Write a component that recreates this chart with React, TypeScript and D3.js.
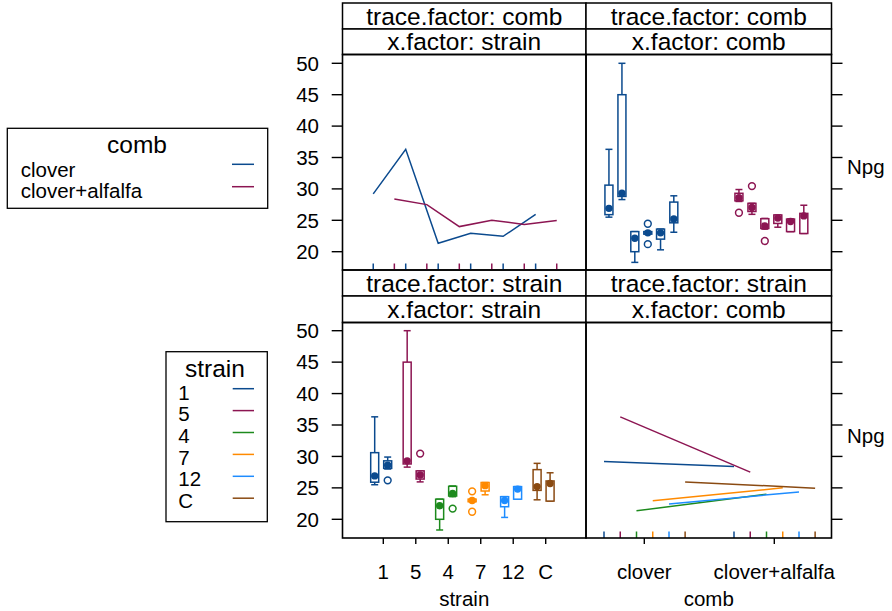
import React from "react";
import * as d3 from "d3";

// ---- data ----
const strains = ["1", "5", "4", "7", "12", "C"];
const combs = ["clover", "clover+alfalfa"];
const meanClover = [29.2, 36.3, 21.35, 22.95, 22.45, 25.95];
const meanAlfalfa = [28.4, 27.5, 24.0, 25.0, 24.35, 24.95];
// [lowWhisker, q1, median, q3, highWhisker]
const boxClover = [
  [25.5, 25.9, 26.9, 30.6, 36.3],
  [28.3, 28.8, 29.3, 45.0, 50.0],
  [18.3, 20.0, 22.15, 23.2, 23.2],
  [22.8, 22.8, 23.0, 23.2, 23.2],
  [20.3, 22.0, 23.0, 23.6, 23.6],
  [23.1, 24.6, 25.2, 27.9, 28.9],
];
const outClover = [[], [], [], [24.45, 21.2], [], []];
const boxAlfalfa = [
  [28.0, 28.1, 28.6, 29.3, 29.9],
  [25.95, 26.4, 27.05, 27.7, 27.7],
  [23.6, 23.7, 24.1, 25.25, 25.3],
  [23.9, 24.5, 25.35, 25.85, 25.85],
  [23.2, 23.2, 24.8, 25.2, 25.2],
  [22.9, 22.9, 25.7, 26.1, 27.4],
];
const outAlfalfa = [[26.2], [30.45], [21.7], [], [], []];
const yTicks = [20, 25, 30, 35, 40, 45, 50];

// ---- styles ----
const strainColors = ["#0B4A8E", "#8C1552", "#1D8A1D", "#FF8A00", "#1E8CFF", "#8A4A12"];
const combColors = [strainColors[0], strainColors[1]];
const FONT = "'Liberation Sans', Arial, sans-serif";
const FS = 20.5;
const FS_BIG = 24.5;

const L = 342.5, M = 586, R = 831.5;
const stripTop = [3, 29, 54.5];
const stripBot = [270, 296, 322.5];
const panelTopY = [54.5, 270];
const panelBotY = [322.5, 538];

const yTop = d3.scaleLinear().domain([50, 20]).range([63.3, 251.7]);
const yBot = d3.scaleLinear().domain([50, 20]).range([330.7, 519.3]);
const xStrain = d3.scaleLinear().domain([1, 6]).range([383.3, 545.7]);
const xComb = d3.scaleLinear().domain([1, 2]).range([644.3, 774.3]);

const traceOffStrain = [-0.31, 0.34]; // comb offsets in strain units (lines)
const boxOffStrain = [-0.265, 0.135]; // comb offsets (boxes)
const traceOffComb = [-0.31, -0.185, -0.06, 0.065, 0.19, 0.314];
const boxOffComb = [-0.272, -0.172, -0.073, 0.027, 0.125, 0.227];

function Box({ cx, stats, outs, y, color }: any) {
  const [lo, q1, md, q3, hi] = stats;
  const bw = 8, cw = 7;
  return (
    <g stroke={color} strokeWidth={1.5} fill="none">
      <line x1={cx} x2={cx} y1={y(hi)} y2={y(q3)} />
      <line x1={cx} x2={cx} y1={y(q1)} y2={y(lo)} />
      <line x1={cx - cw / 2} x2={cx + cw / 2} y1={y(hi)} y2={y(hi)} />
      <line x1={cx - cw / 2} x2={cx + cw / 2} y1={y(lo)} y2={y(lo)} />
      <rect x={cx - bw / 2} y={y(q3)} width={bw} height={Math.max(0.5, y(q1) - y(q3))} fill="white" />
      <circle cx={cx} cy={y(md)} r={3.7} fill={color} stroke="none" />
      {outs.map((o: number, i: number) => (
        <circle key={i} cx={cx} cy={y(o)} r={3.4} fill="white" />
      ))}
    </g>
  );
}

function Strip({ x0, x1, y0, y1, text }: any) {
  return (
    <g>
      <rect x={x0} y={y0} width={x1 - x0} height={y1 - y0} fill="white" stroke="black" strokeWidth={1.5} />
      <text x={(x0 + x1) / 2} y={(y0 + y1) / 2 + 8.6} textAnchor="middle" fontSize={FS_BIG} fontFamily={FONT}>{text}</text>
    </g>
  );
}

export default function App() {
  const means = [meanClover, meanAlfalfa];
  const boxes = [boxClover, boxAlfalfa];
  const outs = [outClover, outAlfalfa];
  const lineTL = d3.line<[number, number]>().x((d) => d[0]).y((d) => d[1]);

  return (
    <svg width={892} height={611} style={{ position: "absolute", left: 0, top: 0, background: "white" }}>
      <rect x={0} y={0} width={892} height={611} fill="white" />
      {/* strips */}
      <Strip x0={L} x1={M} y0={stripTop[0]} y1={stripTop[1]} text="trace.factor: comb" />
      <Strip x0={L} x1={M} y0={stripTop[1]} y1={stripTop[2]} text="x.factor: strain" />
      <Strip x0={M} x1={R} y0={stripTop[0]} y1={stripTop[1]} text="trace.factor: comb" />
      <Strip x0={M} x1={R} y0={stripTop[1]} y1={stripTop[2]} text="x.factor: comb" />
      <Strip x0={L} x1={M} y0={stripBot[0]} y1={stripBot[1]} text="trace.factor: strain" />
      <Strip x0={L} x1={M} y0={stripBot[1]} y1={stripBot[2]} text="x.factor: strain" />
      <Strip x0={M} x1={R} y0={stripBot[0]} y1={stripBot[1]} text="trace.factor: strain" />
      <Strip x0={M} x1={R} y0={stripBot[1]} y1={stripBot[2]} text="x.factor: comb" />

      {/* top-left: lines of means by strain, traced by comb */}
      {combs.map((c, ci) => (
        <g key={c}>
          <path
            d={lineTL(means[ci].map((v, i) => [xStrain(i + 1 + traceOffStrain[ci]), yTop(v)]))!}
            fill="none" stroke={combColors[ci]} strokeWidth={1.5}
          />
          {strains.map((s, i) => (
            <line key={s} x1={xStrain(i + 1 + traceOffStrain[ci])} x2={xStrain(i + 1 + traceOffStrain[ci])}
              y1={panelTopY[1] - 6.5} y2={panelTopY[1]} stroke={combColors[ci]} strokeWidth={1.5} />
          ))}
        </g>
      ))}

      {/* top-right: boxes by comb, one per strain, coloured by comb */}
      {combs.map((c, ci) =>
        strains.map((s, si) => (
          <Box key={c + s} cx={xComb(ci + 1 + boxOffComb[si])} stats={boxes[ci][si]} outs={outs[ci][si]} y={yTop} color={combColors[ci]} />
        ))
      )}

      {/* bottom-left: boxes by strain, one per comb, coloured by strain */}
      {strains.map((s, si) =>
        combs.map((c, ci) => (
          <Box key={s + c} cx={xStrain(si + 1 + boxOffStrain[ci])} stats={boxes[ci][si]} outs={outs[ci][si]} y={yBot} color={strainColors[si]} />
        ))
      )}

      {/* bottom-right: lines of means by comb, traced by strain */}
      {strains.map((s, si) => (
        <g key={s}>
          <path
            d={lineTL(combs.map((c, ci) => [xComb(ci + 1 + traceOffComb[si]), yBot(means[ci][si])]))!}
            fill="none" stroke={strainColors[si]} strokeWidth={1.5}
          />
          {combs.map((c, ci) => (
            <line key={c} x1={xComb(ci + 1 + traceOffComb[si])} x2={xComb(ci + 1 + traceOffComb[si])}
              y1={panelBotY[1] - 6.5} y2={panelBotY[1]} stroke={strainColors[si]} strokeWidth={1.5} />
          ))}
        </g>
      ))}

      {/* panel borders */}
      {[panelTopY, panelBotY].map((py, k) => (
        <g key={k} fill="none" stroke="black" strokeWidth={1.6}>
          <rect x={L} y={py[0]} width={M - L} height={py[1] - py[0]} />
          <rect x={M} y={py[0]} width={R - M} height={py[1] - py[0]} />
        </g>
      ))}

      {/* y axes */}
      {[yTop, yBot].map((ys, k) => (
        <g key={k}>
          {yTicks.map((t) => (
            <g key={t}>
              <line x1={L - 10.8} x2={L} y1={ys(t)} y2={ys(t)} stroke="black" strokeWidth={1.4} />
              <text x={319} y={ys(t) + 7.2} textAnchor="end" fontSize={FS} fontFamily={FONT}>{t}</text>
              <line x1={R} x2={R + 11} y1={ys(t)} y2={ys(t)} stroke="black" strokeWidth={1.4} />
            </g>
          ))}
        </g>
      ))}
      <text x={847} y={174} fontSize={FS} fontFamily={FONT}>Npg</text>
      <text x={847} y={443} fontSize={FS} fontFamily={FONT}>Npg</text>

      {/* x axes */}
      {strains.map((s, i) => (
        <g key={s}>
          <line x1={xStrain(i + 1)} x2={xStrain(i + 1)} y1={panelBotY[1]} y2={panelBotY[1] + 6} stroke="black" strokeWidth={1.4} />
          <text x={xStrain(i + 1)} y={579} textAnchor="middle" fontSize={FS} fontFamily={FONT}>{s}</text>
        </g>
      ))}
      {combs.map((c, i) => (
        <g key={c}>
          <line x1={xComb(i + 1)} x2={xComb(i + 1)} y1={panelBotY[1]} y2={panelBotY[1] + 6} stroke="black" strokeWidth={1.4} />
          <text x={xComb(i + 1)} y={579} textAnchor="middle" fontSize={FS} fontFamily={FONT}>{c}</text>
        </g>
      ))}
      <text x={(L + M) / 2} y={606} textAnchor="middle" fontSize={FS} fontFamily={FONT}>strain</text>
      <text x={(M + R) / 2} y={606} textAnchor="middle" fontSize={FS} fontFamily={FONT}>comb</text>

      {/* legend: comb */}
      <rect x={7.3} y={128.3} width={260.4} height={80} fill="white" stroke="black" strokeWidth={1.3} />
      <text x={137} y={153} textAnchor="middle" fontSize={FS_BIG} fontFamily={FONT}>comb</text>
      {combs.map((c, i) => (
        <g key={c}>
          <text x={20.7} y={176.7 + i * 21} fontSize={FS} fontFamily={FONT}>{c}</text>
          <line x1={232} x2={254} y1={164.3 + i * 22.4} y2={164.3 + i * 22.4} stroke={combColors[i]} strokeWidth={1.5} />
        </g>
      ))}

      {/* legend: strain */}
      <rect x={166} y={351.7} width={101.3} height={170} fill="white" stroke="black" strokeWidth={1.3} />
      <text x={215} y={377} textAnchor="middle" fontSize={FS_BIG} fontFamily={FONT}>strain</text>
      {strains.map((s, i) => (
        <g key={s}>
          <text x={178.3} y={399.8 + i * 21.6} fontSize={FS} fontFamily={FONT}>{s}</text>
          <line x1={232.7} x2={254} y1={388.7 + i * 21.9} y2={388.7 + i * 21.9} stroke={strainColors[i]} strokeWidth={1.5} />
        </g>
      ))}
    </svg>
  );
}
